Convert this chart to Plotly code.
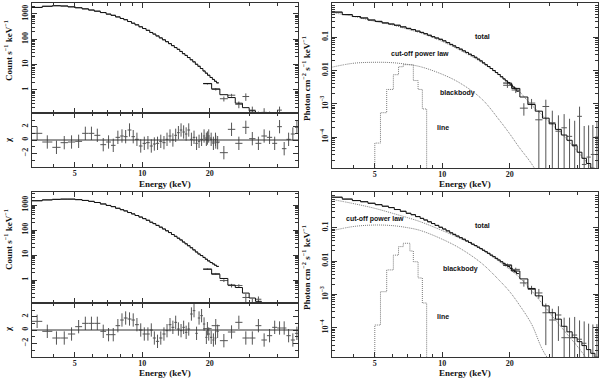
import plotly.graph_objects as go

W, H = 600, 378

# ---------------- energy grids (keV) ----------------
LE_EDGES = [3.22, 3.58, 3.97, 4.32, 4.66, 5.02, 5.39, 5.76, 6.11, 6.50, 6.90, 7.25, 7.60, 7.97,
            8.27, 8.60, 8.95, 9.28, 9.66, 10.03, 10.4, 10.8, 11.15, 11.5, 11.9, 12.3, 12.7, 13.1,
            13.5, 13.9, 14.3, 14.7, 15.1, 15.5, 15.9, 16.35, 16.8, 17.25, 17.7, 18.15, 18.65,
            19.1, 19.55, 20.05, 20.55, 21.0, 21.45, 21.95]
HE_EDGES = [18.7, 20.4, 22.2, 24.1, 26.0, 28.0, 30.0, 32.0, 34.0, 36.0, 38.0, 40.0, 42.0,
            44.0, 46.0, 48.0, 50.0]
LINE_EDGES = [5.0, 5.3, 5.65, 6.05, 6.38, 6.7, 7.17, 7.43, 7.8, 8.15, 8.52]
COMP_E = [3.2, 4, 5, 6, 7, 8, 10, 12, 15, 18, 20, 22, 25, 28, 32, 36, 40, 45, 50]

# ---------------- upper observation ----------------
R1_CNT_LE = [1800, 2000, 2100, 2050, 1900, 1750, 1580, 1420, 1280, 1130, 980, 880, 760, 660,
             590, 500, 430, 370, 310, 265, 225, 185, 160, 135, 113, 95, 80, 67, 56, 47, 40, 33,
             27, 23, 19, 15.5, 12.8, 10.3, 8.6, 7.0, 5.6, 4.6, 3.8, 3.1, 2.6, 2.2, 1.9]
R1_CNT_HE_MOD = [1.8, 1.1, 0.65, 0.5, 0.3, 0.2, 0.15, 0.11, 0.085, 0.07, 0.055, 0.045, 0.037,
                 0.03, 0.024, 0.019]
R1_CNT_HE = [1.75, 1.05, 0.45, 0.62, 0.27, 0.55, 0.16, 0.09, 0.13, 0.09, 0.04, 0.16, 0.01,
             0.035, 0.05, 0.09]
R1_CNT_HE_ERR = [0.12, 0.1, 0.1, 0.08, 0.08, 0.18, 0.06, 0.05, 0.06, 0.05, 0.04, 0.06, 0.04,
                 0.04, 0.04, 0.04]
R1_CHI_LE = [1.0, -0.3, -1.1, -0.4, -0.3, -0.2, 1.0, 1.0, 0.7, -0.7, -0.3, -0.8, 0.4, 0.6, 0.5,
             1.5, 0.5, 0.1, -0.9, -0.5, -0.4, -0.9, -0.6, -0.5, -0.2, -0.4, 0.1, 0.6, 0.0, 0.7,
             1.1, 1.5, 1.2, 0.9, 1.5, 0.1, 0.4, -0.5, -0.2, 0.1, 0.6, 0.1, 0.6, 0.1, -0.5, 0.1,
             -0.4]
R1_CHI_HE = [0.3, -0.3, -1.9, 1.6, -0.5, 1.9, 0.2, -0.5, 0.6, 0.4, -0.5, 2.0, -1.3, 0.1, 0.9, 1.9]
R1_FLX_LE = [0.57, 0.48, 0.42, 0.38, 0.33, 0.30, 0.27, 0.25, 0.23, 0.205, 0.185, 0.17, 0.153,
             0.14, 0.128, 0.115, 0.104, 0.095, 0.087, 0.078, 0.069, 0.061, 0.055, 0.049, 0.044,
             0.039, 0.035, 0.031, 0.028, 0.025, 0.022, 0.0195, 0.017, 0.015, 0.0132, 0.0115,
             0.0100, 0.0087, 0.0076, 0.0065, 0.0056, 0.0049, 0.0043, 0.0037, 0.0032, 0.0028,
             0.0024]
R1_FLX_HE_MOD = [4.2e-3, 2.9e-3, 1.6e-3, 9.5e-4, 6e-4, 3.7e-4, 2.5e-4, 1.7e-4, 1.15e-4, 8e-5,
                 5.5e-5, 3.5e-5, 2.3e-5, 1.6e-5, 1.15e-5, 8e-6]
R1_FLX_HE = [3.6e-3, 2.6e-3, 7.4e-4, 1.05e-3, 3.3e-4, 8.3e-4, 2.7e-4, 1.5e-4, 1.9e-4, 1.05e-4,
             5.9e-5, 4.2e-4, 1.5e-5, 2.5e-5, 3e-5, 1.0e-4]
R1_FLX_HE_UP = [6e-4, 5e-4, 3e-4, 3.5e-4, 3e-4, 5e-4, 3.5e-4, 3e-4, 3e-4, 2.5e-4, 2.5e-4, 4e-4,
                2e-4, 2e-4, 2e-4, 2e-4]
R1_FLX_HE_LO = [6e-4, 5e-4, 3e-4, 3.5e-4, 3.297e-4, 8.29e-4, 2.697e-4, 1.498e-4, 1.898e-4,
                1.049e-4, 5.89e-5, 4.19e-4, 1.49e-5, 2.49e-5, 2.99e-5, 9.99e-5]
R1_CPL = [0.555, 0.43, 0.30, 0.235, 0.175, 0.135, 0.075, 0.041, 0.0175, 7.2e-3, 4.2e-3, 2.4e-3,
          9.2e-4, 4.5e-4, 1.9e-4, 8.5e-5, 3.8e-5, 1.5e-5, 6.5e-6]
R1_BB = [0.0125, 0.0165, 0.0177, 0.0172, 0.0153, 0.0130, 0.0077, 4.2e-3, 1.4e-3, 3.2e-4,
         1.25e-4, 5e-5, 1.6e-5, 4.5e-6, 1e-6, 2e-7, 4e-8, 5e-9, 6e-10]
R1_LINE = [6.6e-5, 5.4e-4, 2.7e-3, 7.5e-3, 0.013, 0.015, 0.015, 5e-3, 2.7e-3, 7e-4]

# ---------------- lower observation ----------------
R2_CNT_LE = [1480, 1600, 1680, 1720, 1720, 1640, 1520, 1400, 1260, 1100, 960, 860, 740, 650,
             580, 500, 440, 380, 330, 285, 245, 205, 180, 153, 130, 110, 93, 79, 66, 56, 47, 40,
             33, 28, 23.5, 19.5, 16, 13.2, 11, 9.5, 8.0, 6.8, 5.8, 5.0, 4.4, 3.9, 3.5]
R2_CNT_HE_MOD = [2.7, 1.7, 1.15, 0.63, 0.5, 0.3, 0.19, 0.14, 0.1, 0.08, 0.065, 0.05, 0.04,
                 0.032, 0.025, 0.02]
R2_CNT_HE = [2.75, 1.8, 0.95, 0.6, 0.6, 0.2, 0.12, 0.17, 0.05, 0.06, 0.075, 0.06, 0.05, 0.02,
             0.01, 0.01]
R2_CNT_HE_ERR = [0.15, 0.12, 0.12, 0.1, 0.08, 0.08, 0.06, 0.05, 0.05, 0.05, 0.04, 0.04, 0.04,
                 0.04, 0.03, 0.03]
R2_CHI_LE = [1.3, -0.2, -1.2, -1.2, -0.6, 0.5, 1.0, 1.0, 1.0, -0.2, -0.7, -0.7, 0.65, 1.5, 1.8,
             1.65, 1.5, 0.8, 0.0, -0.6, -0.6, 0.0, -1.2, -1.7, -1.2, -0.6, -0.1, 0.8, 0.4, 1.15,
             0.15, -0.1, 0.4, -0.35, 0.15, 2.4, 2.9, -0.5, 1.8, 2.15, 0.9, -1.1, -0.6, -1.1,
             -1.5, -1.2, -0.2]
R2_CHI_HE = [0.2, 0.65, -1.6, -0.3, 1.15, -1.2, -1.2, 0.65, -1.5, -0.85, 0.4, 0.3, 0.3, -0.85,
             -1.5, -0.5]
R2_FLX_LE = [0.82, 0.72, 0.65, 0.60, 0.54, 0.49, 0.44, 0.40, 0.35, 0.31, 0.27, 0.245, 0.215,
             0.19, 0.17, 0.15, 0.133, 0.117, 0.103, 0.091, 0.080, 0.070, 0.063, 0.056, 0.050,
             0.045, 0.040, 0.036, 0.032, 0.029, 0.026, 0.0235, 0.021, 0.019, 0.017, 0.015,
             0.0135, 0.012, 0.0107, 0.0095, 0.0085, 0.0076, 0.0068, 0.0060, 0.0053, 0.0047,
             0.0042]
R2_FLX_HE_MOD = [7.5e-3, 5.0e-3, 2.9e-3, 1.5e-3, 9e-4, 4.5e-4, 2.8e-4, 1.8e-4, 1.1e-4, 7.5e-5,
                 5e-5, 3.8e-5, 2.9e-5, 2.2e-5, 1.7e-5, 1.3e-5]
R2_FLX_HE = [7.6e-3, 5.6e-3, 2.2e-3, 1.4e-3, 1.1e-3, 2.8e-4, 1.7e-4, 2.4e-4, 5e-5, 5e-5, 6e-5,
             4.5e-5, 3.4e-5, 1.2e-5, 5e-6, 8e-6]
R2_FLX_HE_UP = [8e-4, 7e-4, 5e-4, 4e-4, 3.5e-4, 2.5e-4, 2e-4, 2e-4, 1.5e-4, 1.5e-4, 1.5e-4,
                1.2e-4, 1.2e-4, 1.2e-4, 1.2e-4, 1.2e-4]
R2_FLX_HE_LO = [8e-4, 7e-4, 5e-4, 4e-4, 3.5e-4, 2.5e-4, 1.69e-4, 2e-4, 4.99e-5, 4.99e-5,
                5.99e-5, 4.49e-5, 3.39e-5, 1.19e-5, 4.99e-6, 7.99e-6]
R2_CPL = [0.71, 0.53, 0.38, 0.27, 0.2, 0.15, 0.082, 0.048, 0.022, 0.0095, 5.6e-3, 3.3e-3,
          1.3e-3, 5.2e-4, 1.7e-4, 6.5e-5, 2.8e-5, 1e-5, 4e-6]
R2_BB = [0.08, 0.108, 0.12, 0.115, 0.1, 0.082, 0.045, 0.024, 8.5e-3, 2.6e-3, 1.2e-3, 5e-4,
         1.3e-4, 2.2e-5, 5e-6, 8e-7, 1e-7, 1e-8, 1e-9]
R2_LINE = [1.2e-4, 1.2e-3, 5.4e-3, 0.015, 0.027, 0.034, 0.02, 9.5e-3, 3.1e-3, 5.5e-4]

TICK_LABELS_LEFT = ["1", "10", "100", "1000"]
TICK_LABELS_RIGHT = ["0.1", "0.01", "10<sup>−3</sup>", "10<sup>−4</sup>"]

DATA_C = "#555555"
MODEL_C = "#111111"
COMP_C = "#7a7a7a"
FRAME_C = "#333333"
SERIF = "Liberation Serif"
SANS = "Liberation Sans"
DOTS = "1px,1px"


def centers(edges):
    return [(a * b) ** 0.5 for a, b in zip(edges[:-1], edges[1:])]


def xerr(edges):
    c = centers(edges)
    return dict(type="data", symmetric=False, array=[b - m for b, m in zip(edges[1:], c)],
                arrayminus=[m - a for a, m in zip(edges[:-1], c)], thickness=1, width=0,
                color=DATA_C)


def yd(top, bot):
    return [1 - bot / H, 1 - top / H]


def xd(left, right):
    return [left / W, right / W]


fig = go.Figure()


def step(edges, vals, ax, color=MODEL_C, dash="solid", width=1):
    fig.add_trace(go.Scatter(x=edges, y=list(vals) + [vals[-1]], mode="lines",
                             line=dict(shape="hv", color=color, width=width, dash=dash),
                             xaxis="x" + ax, yaxis="y" + ax, showlegend=False, hoverinfo="skip"))


def crosses(edges, vals, ax, yup=None, ylo=None):
    ey = None
    if yup is not None:
        ey = dict(type="data", symmetric=ylo is None, array=yup,
                  arrayminus=ylo if ylo is not None else yup,
                  thickness=1, width=0, color=DATA_C)
    fig.add_trace(go.Scatter(x=centers(edges), y=vals, mode="markers",
                             marker=dict(size=1, color="rgba(0,0,0,0)"), error_x=xerr(edges),
                             error_y=ey, xaxis="x" + ax, yaxis="y" + ax,
                             showlegend=False, hoverinfo="skip"))


def panel_set(row):
    if row == 1:
        cle, che_m, che, che_e = R1_CNT_LE, R1_CNT_HE_MOD, R1_CNT_HE, R1_CNT_HE_ERR
        chi_le, chi_he = R1_CHI_LE, R1_CHI_HE
        fle, fhe_m, fhe, fup, flo = R1_FLX_LE, R1_FLX_HE_MOD, R1_FLX_HE, R1_FLX_HE_UP, R1_FLX_HE_LO
        cpl, bb, line = R1_CPL, R1_BB, R1_LINE
        a = ["", "2", "3"]
    else:
        cle, che_m, che, che_e = R2_CNT_LE, R2_CNT_HE_MOD, R2_CNT_HE, R2_CNT_HE_ERR
        chi_le, chi_he = R2_CHI_LE, R2_CHI_HE
        fle, fhe_m, fhe, fup, flo = R2_FLX_LE, R2_FLX_HE_MOD, R2_FLX_HE, R2_FLX_HE_UP, R2_FLX_HE_LO
        cpl, bb, line = R2_CPL, R2_BB, R2_LINE
        a = ["4", "5", "6"]
    # folded spectrum
    crosses(LE_EDGES, cle, a[0])
    step(LE_EDGES, cle, a[0])
    crosses(HE_EDGES, che, a[0], che_e)
    step(HE_EDGES, che_m, a[0])
    # residuals
    crosses(LE_EDGES, chi_le, a[1], [1] * len(chi_le))
    crosses(HE_EDGES, chi_he, a[1], [1] * len(chi_he))
    # unfolded spectrum + components
    for comp in (cpl, bb):
        fig.add_trace(go.Scatter(x=COMP_E, y=comp, mode="lines",
                                 line=dict(shape="spline", color=COMP_C, width=1, dash=DOTS),
                                 xaxis="x" + a[2], yaxis="y" + a[2], showlegend=False))
    fig.add_trace(go.Scatter(x=[LINE_EDGES[0]] + LINE_EDGES, y=[1e-8] + line + [1e-8],
                             mode="lines",
                             line=dict(shape="hv", color=COMP_C, width=1, dash=DOTS),
                             xaxis="x" + a[2], yaxis="y" + a[2], showlegend=False))
    crosses(LE_EDGES, fle, a[2])
    step(LE_EDGES, fle, a[2])
    crosses(HE_EDGES, fhe, a[2], fup, flo)
    step(HE_EDGES, fhe_m, a[2])


panel_set(1)
panel_set(2)

XMAJ = [5, 10, 20]
XMIN = [4, 6, 7, 8, 9, 30, 40]
tickfont = dict(family=SERIF, size=8, color="#222", weight="bold")


def xaxis(dom, anchor, labels):
    return dict(type="log", domain=dom, anchor=anchor, range=[0.508, 1.695],
                tickmode="array", tickvals=XMAJ, ticktext=["5", "10", "20"],
                showticklabels=labels, ticks="inside", ticklen=5, tickcolor=FRAME_C,
                ticklabelstandoff=-2,
                minor=dict(tickmode="array", tickvals=XMIN, ticks="inside", ticklen=3,
                           tickcolor=FRAME_C),
                showline=True, linecolor=FRAME_C, linewidth=1, mirror="allticks",
                showgrid=False, zeroline=False, tickfont=tickfont)


def ylog(dom, anchor, rng, vals, text, lo, hi):
    minor = [k * 10 ** p for p in range(lo, hi) for k in range(2, 10)]
    return dict(type="log", domain=dom, anchor=anchor, range=rng, tickmode="array",
                tickvals=vals, ticktext=text, tickangle=-90, ticks="inside", ticklen=5,
                tickcolor=FRAME_C,
                minor=dict(tickmode="array", tickvals=minor, ticks="inside", ticklen=3,
                           tickcolor=FRAME_C),
                showline=True, linecolor=FRAME_C, linewidth=1, mirror="allticks",
                showgrid=False, zeroline=False, tickfont=tickfont)


def ychi(dom, anchor):
    return dict(domain=dom, anchor=anchor, range=[-4.05, 4.05], tickmode="array",
                tickvals=[-2, 0, 2], ticktext=["−2", "0", "2"], tickangle=-90,
                ticks="inside", ticklen=5, tickcolor=FRAME_C,
                minor=dict(tickmode="array", tickvals=[-3, -1, 1, 3], ticks="inside",
                           ticklen=3, tickcolor=FRAME_C),
                showline=True, linecolor=FRAME_C, linewidth=1, mirror="allticks",
                showgrid=False, zeroline=False, tickfont=tickfont)


LX = xd(32, 298)
RX = xd(332, 598)
layout = dict(
    width=W, height=H, margin=dict(l=0, r=0, t=0, b=0),
    paper_bgcolor="white", plot_bgcolor="white", showlegend=False,
    xaxis=xaxis(LX, "y", False), yaxis=ylog(yd(3, 113), "x", [-0.91, 3.43], [1, 10, 100, 1000],
                                            TICK_LABELS_LEFT, -1, 4),
    xaxis2=xaxis(LX, "y2", True), yaxis2=ychi(yd(113, 167), "x2"),
    xaxis3=xaxis(RX, "y3", True), yaxis3=ylog(yd(3, 168), "x3", [-4.93, 0.03],
                                              [0.1, 0.01, 1e-3, 1e-4], TICK_LABELS_RIGHT, -5, 1),
    xaxis4=xaxis(LX, "y4", False), yaxis4=ylog(yd(192, 303), "x4", [-0.92, 3.52],
                                               [1, 10, 100, 1000], TICK_LABELS_LEFT, -1, 4),
    xaxis5=xaxis(LX, "y5", True), yaxis5=ychi(yd(303, 357), "x5"),
    xaxis6=xaxis(RX, "y6", True), yaxis6=ylog(yd(192, 357), "x6", [-4.88, 0.07],
                                              [0.1, 0.01, 1e-3, 1e-4], TICK_LABELS_RIGHT, -5, 1),
)
fig.update_layout(**layout)

for ax in ["2", "5"]:
    fig.add_shape(type="line", xref="x%s domain" % ax, yref="y" + ax, x0=0, x1=1, y0=0, y1=0,
                  line=dict(color=FRAME_C, width=1))

afont = dict(family=SERIF, size=9, color="#111", weight="bold")
lfont = dict(family=SANS, size=7, color="#111", weight="bold")


def note(text, x, y, font, angle=0):
    fig.add_annotation(text=text, x=x / W, y=1 - y / H, xref="paper", yref="paper",
                       showarrow=False, textangle=angle, font=font,
                       xanchor="center", yanchor="middle")


for yy in [184, 373]:
    note("Energy (keV)", 165, yy, afont)
    note("Energy (keV)", 465, yy, afont)
for off in [0, 189]:
    note("Count s<sup>−1</sup> keV<sup>−1</sup>", 8, 51 + off, afont, -90)
    note("χ", 8, 140 + off, afont, -90)
    note("Photon cm<sup>−2</sup> s<sup>−1</sup> keV<sup>−1</sup>", 306, 79 + off, afont, -90)

note("total", 482, 36, lfont)
note("cut-off power law", 420, 54, lfont)
note("blackbody", 457, 93, lfont)
note("line", 443, 127, lfont)
note("total", 482, 225, lfont)
note("cut-off power law", 375, 219, lfont)
note("blackbody", 460, 269, lfont)
note("line", 443, 316, lfont)

# the page body has a default 8px margin; drop it so the figure fills the window
fig.write_html("out.html", config={"displayModeBar": False},
               post_script="document.body.style.margin='0';")
